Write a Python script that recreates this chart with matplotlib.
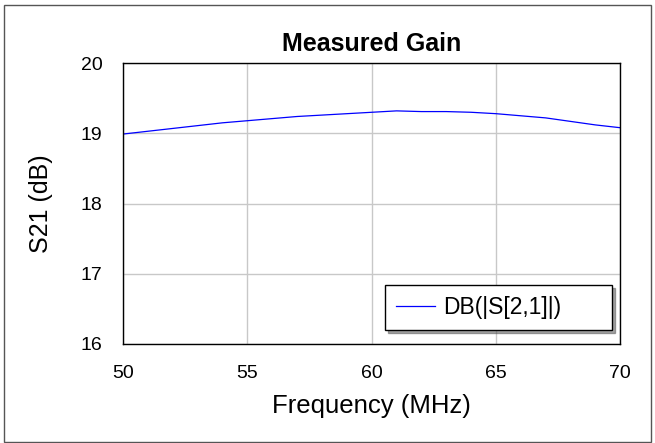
import numpy as np
import matplotlib
matplotlib.use('Agg')
import matplotlib.pyplot as plt
from matplotlib.patches import Rectangle

plt.rcParams['font.family'] = ['Liberation Sans', 'DejaVu Sans']

# 测量数据
freq = [50, 51, 52, 53, 54, 55, 56, 57, 58, 59, 60, 61, 62, 63, 64, 65, 66, 67, 68, 69, 70]
s21 = [18.99, 19.03, 19.07, 19.11, 19.15, 19.18, 19.21, 19.24, 19.26, 19.28, 19.30, 19.32,
       19.31, 19.31, 19.30, 19.28, 19.25, 19.22, 19.17, 19.12, 19.08]
xticks = [50, 55, 60, 65, 70]
yticks = [16, 17, 18, 19, 20]

fig = plt.figure(figsize=(6.55, 4.43), dpi=100)
ax = fig.add_axes([0.188, 0.2235, 0.759, 0.634])

# 外框
fig.patches.append(Rectangle((0.006, 0.003), 0.988, 0.986, transform=fig.transFigure,
                             fill=False, edgecolor='#555555', linewidth=1))

ax.plot(freq, s21, color='#0000ff', linewidth=0.9, label='DB(|S[2,1]|)')
ax.set_xlim(50, 70)
ax.set_ylim(16, 20)
ax.set_xticks(xticks)
ax.set_yticks(yticks)
ax.grid(True, color='#c8c8c8', linewidth=1)
ax.set_axisbelow(True)
ax.tick_params(length=0, labelsize=14, pad=15)
for sp in ax.spines.values():
    sp.set_linewidth(1)

ax.set_title('Measured Gain', fontsize=18, fontweight='bold', pad=9)
ax.set_xlabel('Frequency (MHz)', fontsize=18.5, labelpad=9)
ax.set_ylabel('S21 (dB)', fontsize=18, labelpad=20)

leg = ax.legend(loc='lower left', mode='expand', fontsize=16.5, fancybox=False, shadow=True,
                edgecolor='black', framealpha=1, handlelength=1.7, handletextpad=0.35,
                borderpad=0.48, borderaxespad=0,
                bbox_to_anchor=(0.527, 0.05, 0.457, 0.157))
leg.get_frame().set_linewidth(1)

fig.savefig('out.png', dpi=100)
